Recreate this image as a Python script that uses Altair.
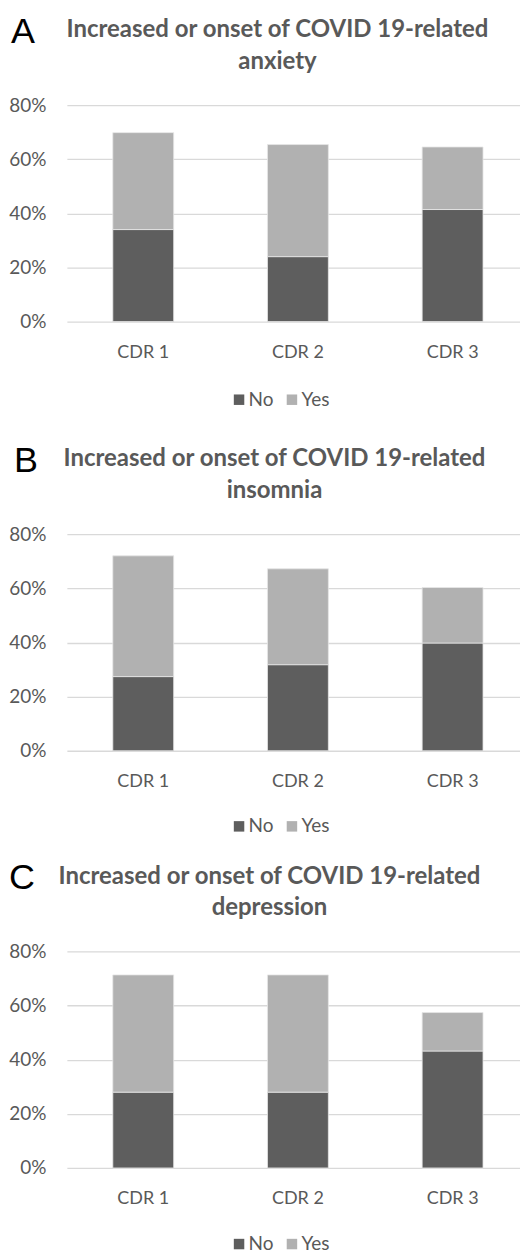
import altair as alt
import pandas as pd

categories = ["CDR 1", "CDR 2", "CDR 3"]
series = ["No", "Yes"]
letters = ["A", "B", "C"]
titles = [
    "Increased or onset of COVID 19-related\nanxiety",
    "Increased or onset of COVID 19-related\ninsomnia",
    "Increased or onset of COVID 19-related\ndepression",
]
no_vals = [
    [0.34, 0.24, 0.414],
    [0.274, 0.318, 0.398],
    [0.28, 0.28, 0.432],
]
yes_vals = [
    [0.358, 0.414, 0.231],
    [0.446, 0.354, 0.205],
    [0.433, 0.433, 0.142],
]
y_ticks = [0, 0.2, 0.4, 0.6, 0.8]

FONT = "Lato"
GREY = "#595959"
DARK = "#5e5e5e"
LIGHT = "#b1b1b1"
letter_x = [-56, -53, -58]
title_x = [211, 208, 203]
legend_y = [285.5, 283, 283.5]
legend_pad = [9, 0, 0]


def panel(i):
    rows = []
    for j, c in enumerate(categories):
        rows.append({"cat": c, "series": "No", "order": 0, "value": no_vals[i][j]})
        rows.append({"cat": c, "series": "Yes", "order": 1, "value": yes_vals[i][j]})
    df = pd.DataFrame(rows)
    p = legend_pad[i]
    bars = alt.Chart(df).mark_bar(stroke="#e6e6e6", strokeWidth=0.8).encode(
        x=alt.X("cat:N", sort=categories,
                scale=alt.Scale(paddingInner=0.6065, paddingOuter=0.268, align=0.554),
                axis=alt.Axis(title=None, labelAngle=0, domain=False, ticks=False,
                              labelPadding=22, labelFontSize=18, labelColor=GREY,
                              labelFont=FONT)),
        y=alt.Y("value:Q", stack="zero",
                scale=alt.Scale(domain=[0, 0.8], nice=False),
                axis=alt.Axis(title=None, values=y_ticks, format=".0%", domain=False,
                              ticks=False, labelPadding=21, labelFontSize=19,
                              labelColor=GREY, labelFont=FONT, gridColor="#d9d9d9",
                              gridWidth=1.3)),
        color=alt.Color("series:N", sort=series,
                        scale=alt.Scale(domain=series, range=[DARK, LIGHT]),
                        legend=alt.Legend(title=None, orient="none", legendX=163 - p,
                                          legendY=legend_y[i] - p, direction="horizontal",
                                          symbolType="square", symbolSize=110,
                                          symbolStrokeWidth=0, labelFontSize=19,
                                          labelColor=GREY, labelFont=FONT,
                                          labelOffset=0, columnPadding=9,
                                          padding=p)),
        order=alt.Order("order:Q"),
    )
    head = pd.DataFrame({"letter": [letters[i]], "title": [titles[i]]})
    lab = alt.Chart(head).mark_text(
        fontSize=36, font="Liberation Sans", color="#000000", align="left", baseline="top"
    ).encode(x=alt.value(letter_x[i]), y=alt.value(-90), text="letter:N")
    ttl = alt.Chart(head).mark_text(
        fontSize=24, font=FONT, fontWeight="bold", color=GREY, align="center",
        baseline="top", lineBreak="\n", lineHeight=32
    ).encode(x=alt.value(title_x[i]), y=alt.value(-87), text="title:N")
    return alt.layer(bars, lab, ttl).properties(width=454, height=217)


chart = alt.vconcat(panel(0), panel(1), panel(2), spacing=24).resolve_legend(
    color="independent"
).resolve_scale(color="independent").properties(
    padding={"left": 0, "right": 0, "top": 5, "bottom": 0}
).configure_view(stroke=None)

chart.save("out.html", embed_options={"renderer": "svg", "actions": False})
